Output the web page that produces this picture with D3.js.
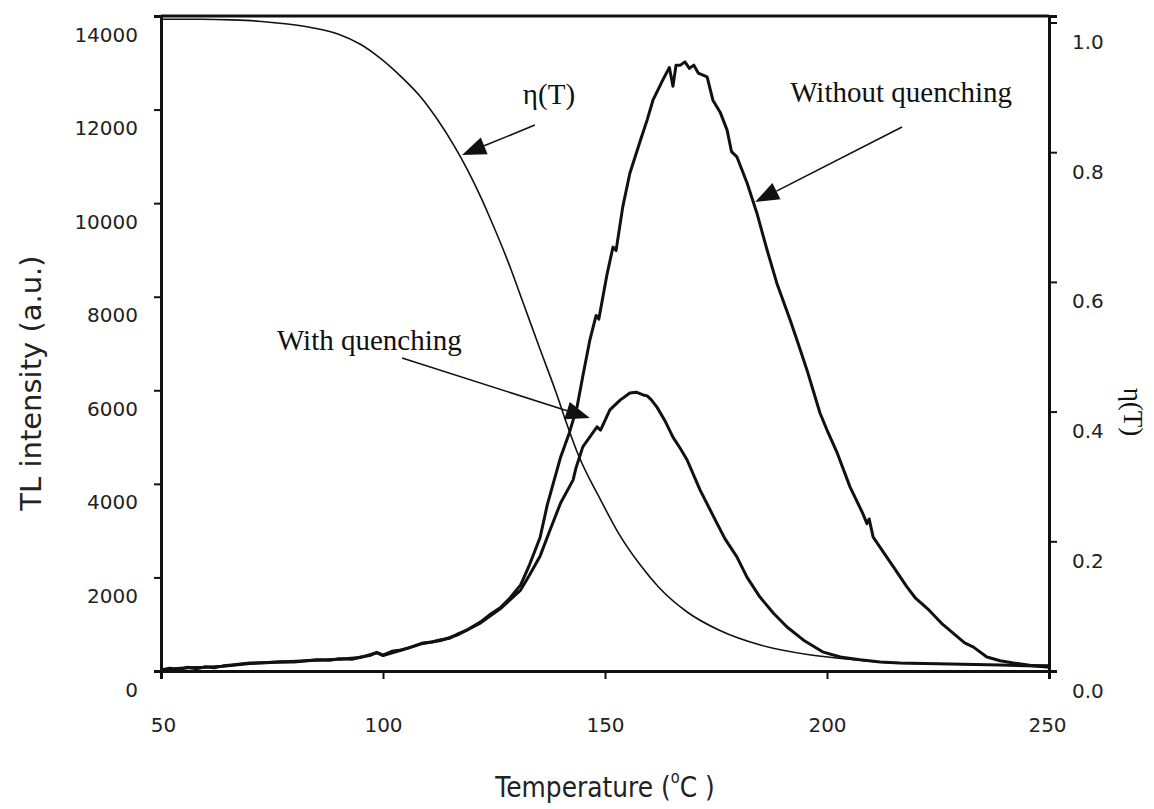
<!DOCTYPE html>
<html>
<head>
<meta charset="utf-8">
<script src="https://cdn.jsdelivr.net/npm/d3@7"></script>
<style>
  body { margin: 0; background: #fff; }
  svg { display: block; }
  .tick-label { font-family: "DejaVu Sans", sans-serif; font-size: 20px; fill: #222; }
  .note { font-family: "Liberation Serif", "Times New Roman", serif; font-size: 29px; fill: #111; }
</style>
</head>
<body>
<svg id="chart" width="1154" height="809"></svg>
<script>
// x ticks (temperature) and axis ticks
const xTicks = [50, 100, 150, 200, 250];
const yTicks = [0, 2000, 4000, 6000, 8000, 10000, 12000, 14000];
const etaTicks = [0, 0.2, 0.4, 0.6, 0.8, 1.0];

// eta(T) curve, right axis
const etaTemp = [50, 59, 66, 72, 78, 84, 90, 95, 99, 104, 109, 112, 116, 119, 122, 124, 128, 131.5, 135, 139, 141.5, 144, 149, 153, 158, 162, 168.5, 176, 185, 196, 207, 216, 228, 239, 250];
const etaValues = [1.005, 1.005, 1.004, 1.002, 0.998, 0.992, 0.982, 0.966, 0.947, 0.917, 0.881, 0.853, 0.81, 0.773, 0.731, 0.7, 0.634, 0.569, 0.503, 0.429, 0.379, 0.333, 0.264, 0.213, 0.163, 0.13, 0.091, 0.062, 0.04, 0.025, 0.017, 0.012, 0.011, 0.009, 0.009];

// TL glow curve without quenching
const withoutTemp = [50, 52, 54, 56, 58, 60, 62, 64, 66, 70, 74, 77, 80, 85, 88, 90, 93, 95, 97, 98.6, 100, 102, 104, 106, 109, 111, 113, 115, 117, 119, 122, 124, 126.4, 128.6, 131, 133, 135.4, 137, 140, 142, 143.7, 145, 146.6, 148, 148.6, 150.5, 151.8, 152.5, 154, 155.6, 158, 159.5, 160.8, 163, 164.5, 165.3, 166, 167, 168, 169, 170, 171, 173, 174.3, 176, 177.5, 178.5, 179.7, 182, 184.2, 186.5, 188.7, 191.7, 193.5, 195.5, 198.4, 200, 202.3, 205.2, 208, 209, 209.5, 210.4, 213, 215, 218, 220, 223, 226, 228.4, 231, 233, 236, 239, 242, 246, 250];
const withoutValues = [20, 60, 30, 80, 50, 90, 70, 110, 130, 170, 180, 200, 190, 240, 230, 260, 250, 300, 330, 400, 340, 420, 450, 500, 600, 620, 670, 700, 800, 880, 1050, 1200, 1350, 1560, 1840, 2270, 2860, 3550, 4570, 5100, 5640, 6300, 7080, 7600, 7520, 8500, 9060, 8990, 9920, 10640, 11350, 11780, 12200, 12630, 12900, 12500, 12950, 12950, 13020, 12880, 12950, 12780, 12700, 12200, 11930, 11560, 11100, 10990, 10430, 9790, 9000, 8290, 7500, 7000, 6430, 5520, 5150, 4660, 3930, 3380, 3150, 3250, 2860, 2500, 2220, 1800, 1550, 1300, 1000, 810, 600, 510, 300, 220, 170, 120, 80];

// TL glow curve with quenching
const withTemp = [50, 53, 56, 60, 64, 70, 77, 85, 90, 95, 98.6, 100, 104, 109, 113, 117, 122, 126.4, 128.6, 131, 133, 135.4, 137.6, 140, 142.8, 143.5, 145, 148.2, 149, 151.1, 153.4, 155.6, 157, 158.6, 159.5, 160.4, 161.7, 163.5, 165.3, 167, 168.5, 171.4, 175.2, 177, 179.7, 182, 184.9, 188, 191, 195, 199, 203, 207.4, 212, 216.4, 222, 227.7, 239, 245, 250];
const withValues = [20, 50, 70, 80, 100, 160, 190, 230, 250, 290, 390, 330, 440, 590, 650, 780, 1030, 1330, 1520, 1730, 2050, 2460, 3010, 3590, 4080, 4350, 4790, 5220, 5150, 5580, 5790, 5940, 5960, 5900, 5880, 5800, 5640, 5350, 5000, 4750, 4510, 3870, 3160, 2830, 2440, 2000, 1580, 1230, 940, 640, 410, 300, 240, 190, 170, 160, 150, 130, 110, 100];

// annotations: text anchor and arrow (from -> tip), in data units (T, TL intensity)
const notes = [
  { label: "η(T)", tx: 131.5, ty: 12119, from: [134.2, 11670], tip: [117.8, 11029] },
  { label: "Without quenching", tx: 191.7, ty: 12162, from: [216.9, 11627], tip: [183.8, 10024] },
  { label: "With quenching", tx: 76.1, ty: 6861, from: [104.3, 6690], tip: [146.6, 5408] }
];

const svg = d3.select("#chart");
const plotLeft = 161, plotRight = 1049, plotTop = 16, plotBottom = 671;

const x = d3.scaleLinear().domain([50, 250]).range([plotLeft, plotRight]);
const y = d3.scaleLinear().domain([0, 14000]).range([plotBottom, plotTop]);
const yEta = d3.scaleLinear().domain([0, 1.01]).range([plotBottom, plotTop]);

// top frame line
svg.append("line").attr("x1", plotLeft).attr("x2", plotRight).attr("y1", plotTop).attr("y2", plotTop)
  .attr("stroke", "#111").attr("stroke-width", 3);

// left axis
const yAxis = svg.append("g").attr("transform", `translate(${plotLeft},0)`)
  .call(d3.axisLeft(y).tickValues(yTicks).tickSize(7).tickFormat(d3.format("d")));
// right axis
const etaAxis = svg.append("g").attr("transform", `translate(${plotRight},0)`)
  .call(d3.axisRight(yEta).tickValues(etaTicks).tickSize(8).tickFormat(d3.format(".1f")));
// bottom axis
const xAxis = svg.append("g").attr("transform", `translate(0,${plotBottom})`)
  .call(d3.axisBottom(x).tickValues(xTicks).tickSize(8).tickFormat(d3.format("d")));

[yAxis, etaAxis, xAxis].forEach((g) => {
  g.select(".domain").attr("stroke", "#111").attr("stroke-width", 3);
  g.selectAll(".tick line").attr("stroke", "#111").attr("stroke-width", 2);
  g.selectAll(".tick text").attr("class", "tick-label").attr("fill", "#222");
});
// labels sit a bit under their ticks in the original
yAxis.selectAll(".tick text").attr("x", -23).attr("dy", "1.25em");
etaAxis.selectAll(".tick text").attr("x", 23).attr("dy", "1.3em");
xAxis.selectAll(".tick text").attr("y", 61).attr("dy", 0);
xAxis.selectAll(".tick").filter((d) => d === 50).select("text").attr("dx", 2);
xAxis.selectAll(".tick").filter((d) => d === 250).select("text").attr("dx", -2);

// curves
const lineT = d3.line().x((d) => x(d[0])).y((d) => y(d[1]));
const lineEta = d3.line().curve(d3.curveMonotoneX).x((d) => x(d[0])).y((d) => yEta(d[1]));

svg.append("path")
  .attr("d", lineEta(d3.zip(etaTemp, etaValues)))
  .attr("fill", "none").attr("stroke", "#111").attr("stroke-width", 1.6);

svg.append("path")
  .attr("d", lineT(d3.zip(withTemp, withValues)))
  .attr("fill", "none").attr("stroke", "#111").attr("stroke-width", 3).attr("stroke-linejoin", "round");

svg.append("path")
  .attr("d", lineT(d3.zip(withoutTemp, withoutValues)))
  .attr("fill", "none").attr("stroke", "#111").attr("stroke-width", 3).attr("stroke-linejoin", "round");

// annotations with arrows
notes.forEach((n) => {
  const x1 = x(n.from[0]), y1 = y(n.from[1]);
  const x2 = x(n.tip[0]), y2 = y(n.tip[1]);
  const ang = Math.atan2(y2 - y1, x2 - x1);
  const len = 24, half = 9;
  const bx = x2 - len * Math.cos(ang), by = y2 - len * Math.sin(ang);
  svg.append("line").attr("x1", x1).attr("y1", y1).attr("x2", bx).attr("y2", by)
    .attr("stroke", "#111").attr("stroke-width", 1.6);
  const pts = [
    [x2, y2],
    [bx + half * Math.sin(ang), by - half * Math.cos(ang)],
    [bx - half * Math.sin(ang), by + half * Math.cos(ang)]
  ];
  svg.append("polygon").attr("points", pts.map((p) => p.join(",")).join(" ")).attr("fill", "#111");
  svg.append("text").attr("class", "note").attr("x", x(n.tx)).attr("y", y(n.ty)).text(n.label);
});

// axis titles
const xTitle = svg.append("text")
  .attr("transform", `translate(${(plotLeft + plotRight) / 2},797) scale(0.86,1)`)
  .attr("text-anchor", "middle")
  .style("font-family", "DejaVu Sans, sans-serif").style("font-size", "29px").attr("fill", "#222");
xTitle.append("tspan").text("Temperature (");
xTitle.append("tspan").attr("dy", -14).style("font-size", "17px").text("o");
xTitle.append("tspan").attr("dy", 14).text("C )");

svg.append("text")
  .attr("transform", "translate(41,383) rotate(-90)")
  .attr("text-anchor", "middle")
  .style("font-family", "DejaVu Sans, sans-serif").style("font-size", "29px").attr("fill", "#222")
  .text("TL intensity (a.u.)");

svg.append("text")
  .attr("transform", "translate(1124,412) rotate(90)")
  .attr("text-anchor", "middle")
  .attr("class", "note").style("font-size", "27px")
  .text("η(T)");
</script>
</body>
</html>
